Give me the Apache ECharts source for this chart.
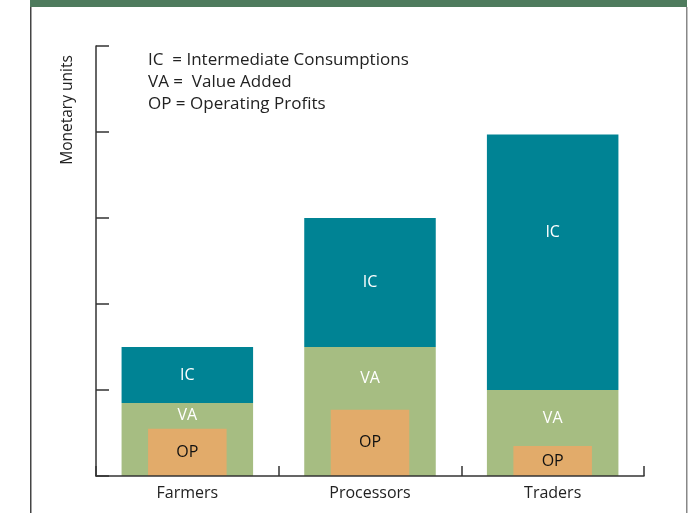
<!DOCTYPE html>
<html><head><meta charset="utf-8">
<script src="https://cdn.jsdelivr.net/npm/echarts@6/dist/echarts.min.js"></script>
<style>html,body{margin:0;padding:0;background:#fff;}#c{width:697px;height:513px;}</style>
</head><body><div id="c"></div>
<script>
var categories = ['Farmers', 'Processors', 'Traders'];
var icValues = [0.65, 1.5, 2.97];   // Intermediate Consumptions (on top of VA)
var vaValues = [0.85, 1.5, 1.0];    // Value Added
var opValues = [0.55, 0.77, 0.35];  // Operating Profits (part of VA)
var yTicks = [0, 1, 2, 3, 4, 5];
var legendLines = ['IC  = Intermediate Consumptions', 'VA =  Value Added', 'OP = Operating Profits'];

var FONT = 'Open Sans';
var C_IC = '#008394', C_VA = '#a6bd82', C_OP = '#e2ab6a';

// space of VA above OP, only used to place the "VA" label
var vaLabelSpace = vaValues.map(function (v, i) { return +(v - opValues[i]).toFixed(3); });
var icData = icValues.map(function (v, i) {
  return i === 2 ? { value: v, label: { position: 'insideTop', distance: 90 } } : v;
});

var chart = echarts.init(document.getElementById('c'), null, { renderer: 'canvas' });
chart.setOption({
  animation: false,
  textStyle: { fontFamily: FONT },
  grid: { left: 96, right: 53, top: 46, bottom: 37 },
  xAxis: [{
    type: 'category', data: categories, z: 10,
    axisLine: { lineStyle: { color: '#333', width: 1.5 } },
    axisTick: { show: true, inside: true, length: 10, interval: 0, alignWithLabel: false, lineStyle: { color: '#333', width: 1.5 } },
    axisLabel: { color: '#222', fontSize: 16, fontFamily: FONT, margin: 9 }
  }, {
    type: 'category', data: categories, show: false
  }],
  yAxis: {
    type: 'value', min: yTicks[0], max: yTicks[yTicks.length - 1], interval: 1,
    axisLine: { show: true, lineStyle: { color: '#333', width: 1.5 } },
    axisTick: { show: true, inside: true, length: 13, lineStyle: { color: '#333', width: 1.5 } },
    axisLabel: { show: false },
    splitLine: { show: false }
  },
  series: [{
    name: 'VA', type: 'bar', stack: 's', barWidth: '72%', xAxisIndex: 0,
    data: vaValues, itemStyle: { color: C_VA }
  }, {
    name: 'IC', type: 'bar', stack: 's', barWidth: '72%', xAxisIndex: 0,
    data: icData, itemStyle: { color: C_IC },
    label: { show: true, position: 'inside', formatter: 'IC', color: '#fff', fontSize: 16, fontFamily: FONT }
  }, {
    name: 'OP', type: 'bar', stack: 'o', barWidth: '43%', xAxisIndex: 1,
    data: opValues, itemStyle: { color: C_OP }, z: 5,
    label: { show: true, position: 'inside', formatter: 'OP', color: '#111', fontSize: 16, fontFamily: FONT }
  }, {
    name: 'VA label', type: 'bar', stack: 'o', barWidth: '43%', xAxisIndex: 1,
    data: vaLabelSpace, itemStyle: { color: 'rgba(0,0,0,0)' }, z: 5, silent: true,
    label: { show: true, position: 'inside', formatter: 'VA', color: '#fff', fontSize: 16, fontFamily: FONT }
  }],
  graphic: [
    { type: 'rect', left: 30, top: 0, shape: { width: 657, height: 7 }, style: { fill: '#4e7b5d' }, silent: true },
    { type: 'rect', left: 30, top: 7, shape: { width: 1.5, height: 506 }, style: { fill: '#444' }, silent: true },
    { type: 'rect', left: 686, top: 7, shape: { width: 1.5, height: 506 }, style: { fill: '#888' }, silent: true },
    { type: 'text', x: 68, y: 110, rotation: Math.PI / 2,
      style: { text: 'Monetary units', fontSize: 15.5, fontFamily: FONT, fill: '#222', align: 'center', verticalAlign: 'middle' } },
    { type: 'text', x: 148, y: 60, style: { text: legendLines[0], fontSize: 17, fontFamily: FONT, fill: '#222', verticalAlign: 'middle' } },
    { type: 'text', x: 148, y: 82, style: { text: legendLines[1], fontSize: 17, fontFamily: FONT, fill: '#222', verticalAlign: 'middle' } },
    { type: 'text', x: 148, y: 104, style: { text: legendLines[2], fontSize: 17, fontFamily: FONT, fill: '#222', verticalAlign: 'middle' } }
  ]
});
</script></body></html>
